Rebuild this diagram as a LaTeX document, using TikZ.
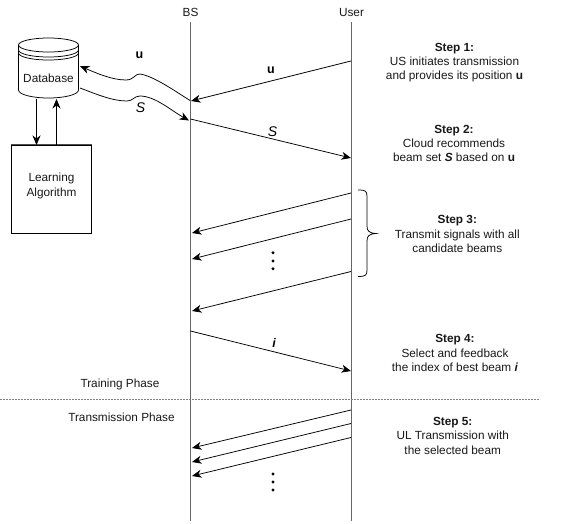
\documentclass[tikz,border=0pt]{standalone}
\usepackage{fontspec}
\setmainfont{Liberation Sans}
\usetikzlibrary{arrows.meta,decorations.pathreplacing}
\tikzset{
  life/.style={draw=black!60!white,line width=0.9pt},
  msg/.style={draw=black,line width=0.75pt,-{Stealth[length=9.5pt,width=8pt,inset=3pt]}},
  lbl/.style={font=\fontsize{11.8}{14.2}\selectfont,align=center,inner sep=0pt,text=black!90},
  dotmark/.style={circle,fill=black,inner sep=0pt,minimum size=3.4pt},
}
\begin{document}
\begin{tikzpicture}[x=1pt,y=-1pt]
\useasboundingbox (0,0) rectangle (576,523);
\fill[white] (0,0) rectangle (576,523);
% lifelines
\node[lbl] (bslabel) at (190.5,12.5) {BS};
\node[lbl] (userlabel) at (351.5,12.5) {User};
\coordinate (bstop) at (190,22); \coordinate (bsbot) at (190,521);
\coordinate (usertop) at (351,22); \coordinate (userbot) at (351,521);
\draw[life] (bstop) -- (bsbot);
\draw[life] (usertop) -- (userbot);
% database
\draw[line width=0.75pt,fill=white] (18.5,45) -- (18.5,90) arc[start angle=180,end angle=0,x radius=30,y radius=8] -- (78.5,45) arc[start angle=0,end angle=-180,x radius=30,y radius=7];
\draw[line width=0.75pt] (18.5,45) arc[start angle=180,end angle=0,x radius=30,y radius=7]
  (18.5,50) arc[start angle=180,end angle=0,x radius=30,y radius=7]
  (18.5,53) arc[start angle=180,end angle=0,x radius=30,y radius=7];
\node[lbl] (db) at (48.5,78.5) {Database};
% learning
\node[draw=black,line width=0.75pt,minimum width=80pt,minimum height=88pt,inner sep=0pt] (la) at (51.5,189) {};
\draw[draw=black!70,line width=0.9pt] (la.north west) -- (la.north east);
\node[lbl] (latext) at (51.5,186) {Learning\\Algorithm};
\coordinate (dbdown) at (36.5,98.5); \coordinate (ladown) at (36.5,145);
\coordinate (laup) at (56.5,145); \coordinate (dbup) at (56.5,99);
\draw[msg] (dbdown) -- (ladown);
\draw[msg] (laup) -- (dbup);
% wavy cloud links
\coordinate (uS) at (190,100.5); \coordinate (uE) at (80,66);
\coordinate (sS) at (80,88); \coordinate (sE) at (189,120.5);
\draw[msg] (uS) .. controls (172,89) and (153,76) .. (140,74) .. controls (135,73.5) and (134,80) .. (126,80) .. controls (112,80) and (96,73) .. (uE);
\draw[msg] (sS) .. controls (96,94) and (112,101) .. (127,101) .. controls (133,101) and (134,96) .. (140,96) .. controls (155,96) and (172,111) .. (sE);
\node[inner sep=0pt,font=\fontsize{12.5}{14}\selectfont\bfseries] (ulabel0) at (139.5,55.5) {u};
\node[inner sep=0pt,font=\fontsize{14}{15}\selectfont\itshape] (slabel0) at (140.5,108) {S};
% messages
\foreach \n/\ax/\ay/\bx/\by in {m1/351/61/191/101, m2/190.5/119/351/158, m3/351/193/192/233, m4/351/219/192/259, m5/351/271.5/192/311, m6/190.5/331/351/371, m7/351/410/192/448, m8/351/423.5/192/462, m9/351/437.5/192/476}{
  \coordinate (\n a) at (\ax,\ay);
  \coordinate (\n b) at (\bx,\by);
  \draw[msg] (\n a) -- (\n b);
}
\node[inner sep=0pt,font=\fontsize{12.5}{14}\selectfont\bfseries] (ulabel) at (271,70) {u};
\node[inner sep=0pt,font=\fontsize{14}{15}\selectfont\itshape] (slabel) at (272.5,132) {S};
\node[inner sep=0pt,font=\fontsize{12.5}{14}\selectfont\bfseries\itshape] (ilabel) at (274,343) {i};
% dots
\foreach \n/\y in {a/252.7,b/261,c/268.7}{\node[dotmark] (d\n) at (273,\y) {};}
\foreach \n/\y in {e/474,f/482,g/490}{\node[dotmark] (d\n) at (273,\y) {};}
% brace
\draw[line width=0.75pt] (358,190) .. controls (366,190) and (367,191) .. (367,197) -- (367,226) .. controls (367,231) and (369,233) .. (376,233.5) .. controls (369,234) and (367,236) .. (367,241) -- (367,270) .. controls (367,275) and (366,276.5) .. (358,276.5);
% phase divider
\coordinate (phL) at (0,399.5); \coordinate (phR) at (540,399.5);
\draw[black!50,line width=0.5pt,dash pattern=on 2pt off 1pt] (phL) -- (phR);
\node[lbl] (train) at (120,384) {Training Phase};
\node[lbl] (trans) at (121.5,417.5) {Transmission Phase};
% steps
\node[lbl] (s1) at (454.5,62.5) {\textbf{Step 1:}\\US initiates transmission\\and provides its position \textbf{u}};
\node[lbl] (s2) at (454,143.2) {\textbf{Step 2:}\\Cloud recommends\\beam set \textbf{\textit{S}} based on \textbf{u}};
\node[lbl] (s3) at (457.3,234) {\textbf{Step 3:}\\Transmit signals with all\\candidate beams};
\node[lbl] (s4) at (455,353) {\textbf{Step 4:}\\Select and feedback\\the index of best beam \textbf{\textit{i}}};
\node[lbl] (s5) at (452.7,435.8) {\textbf{Step 5:}\\UL Transmission with\\the selected beam};
\end{tikzpicture}
\end{document}
